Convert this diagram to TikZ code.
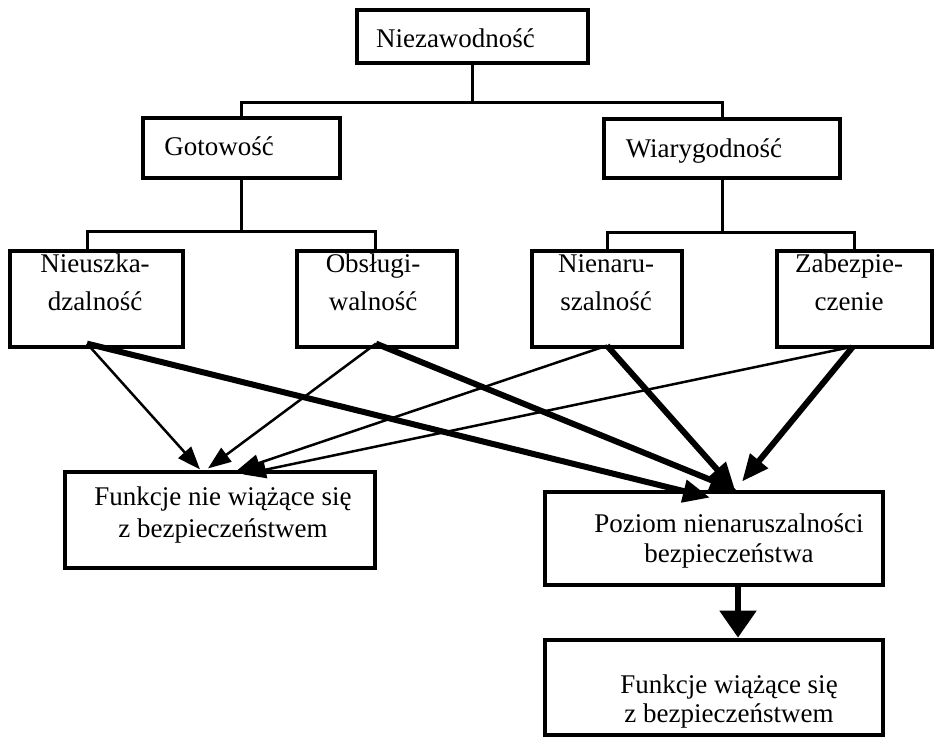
\documentclass[tikz,border=0pt]{standalone}
\usepackage{fontspec}
\setmainfont{Liberation Serif}
\usetikzlibrary{arrows.meta}

% two centred lines, baseline at the first line, extra gap between them
\newcommand\twoln[3]{\begin{tabular}[t]{@{}c@{}}#1\\[#3]#2\end{tabular}}

\begin{document}
\begin{tikzpicture}[x=1pt,y=-1pt,
  box/.style={draw, rectangle, line width=3.2pt, inner sep=0pt},
  heavybox/.style={box, line width=4.8pt},
  lbl/.style={inner sep=0pt, anchor=base, font=\fontsize{27}{30}\selectfont},
  tree/.style={line width=3pt},
  thinarrow/.style={line width=2.5pt, -{Triangle[length=23pt, width=17pt]}},
  thickarrow/.style={line width=6pt, -{Triangle[length=27pt, width=22pt]}},
  downarrow/.style={line width=5.5pt, -{Triangle[length=27pt, width=36pt]}}]

\useasboundingbox (0,0) rectangle (939,740);

% ---- boxes ----
\node[box, minimum width=231pt, minimum height=53pt] (top)  at (472.5,36.5) {};
\node[box, minimum width=197pt, minimum height=60pt] (got)  at (241.5,148)  {};
\node[box, minimum width=236pt, minimum height=59pt] (wia)  at (722,148.5)  {};
\node[box, minimum width=173pt, minimum height=96pt] (nieu) at (96.5,299)   {};
\node[box, minimum width=160pt, minimum height=96pt] (obs)  at (377,299)    {};
\node[box, minimum width=150pt, minimum height=96pt] (nien) at (607,299)    {};
\node[box, minimum width=155pt, minimum height=96pt] (zab)  at (854.5,299)  {};
\node[box, minimum width=310pt, minimum height=96pt] (fnie) at (220,520)    {};
\node[heavybox, minimum width=338pt, minimum height=93pt] (poz) at (714,538.5) {};
\node[heavybox, minimum width=338pt, minimum height=95pt] (fwi) at (714,687.5) {};

% ---- texts ----
\node[lbl] (t-top)  at (455.5,47) {Niezawodność};
\node[lbl] (t-got)  at (219,155)  {Gotowość};
\node[lbl] (t-wia)  at (704,157)  {Wiarygodność};
\node[lbl] (t-nieu) at (95,272)   {\twoln{Nieuszka-}{dzalność}{8pt}};
\node[lbl] (t-obs)  at (373,272)  {\twoln{Obsługi-}{walność}{8pt}};
\node[lbl] (t-nien) at (606,272)  {\twoln{Nienaru-}{szalność}{8pt}};
\node[lbl] (t-zab)  at (849,272)  {\twoln{Zabezpie-}{czenie}{8pt}};
\node[lbl] (t-fnie) at (223,505)  {\twoln{Funkcje nie wiążące się}{z bezpieczeństwem}{2pt}};
\node[lbl] (t-poz)  at (729,532)  {\twoln{Poziom nienaruszalności}{bezpieczeństwa}{0pt}};
\node[lbl] (t-fwi)  at (729,693)  {\twoln{Funkcje wiążące się}{z bezpieczeństwem}{-1pt}};

% ---- hierarchy ----
\coordinate (barA) at (0,102);
\coordinate (barB) at (0,231);
\coordinate (barC) at (0,232);
\draw[tree] (top.south) -- (top.south |- barA);
\draw[tree] (got.north) |- (wia.north |- barA) -- (wia.north);
\draw[tree] (got.south) -- (got.south |- barB);
\draw[tree] ([xshift=-9.5pt]nieu.north) |- ([xshift=-2pt]obs.north |- barB) -- ([xshift=-2pt]obs.north);
\draw[tree] (wia.south) -- (wia.south |- barC);
\draw[tree] (nien.north) |- (zab.north |- barC) -- (zab.north);

% ---- arrow origins ----
\coordinate (o1) at ([shift={(-9.5,-5)}]nieu.south);
\coordinate (o2) at ([shift={(-1,-5)}]obs.south);
\coordinate (o3) at ([shift={(0,-3)}]nien.south);
\coordinate (o4) at ([shift={(-1.5,-2)}]zab.south);

% ---- arrows into the non-safety functions ----
\draw[thinarrow] (o1) -- ([shift={(-20,-1)}]fnie.north);
\draw[thinarrow] (o2) -- ([shift={(-12,-2)}]fnie.north);
\draw[thinarrow] (o3) -- ([shift={(17,0)}]fnie.north);
\draw[thinarrow] (o4) -- ([shift={(23,4)}]fnie.north);

% ---- arrows into the safety integrity level ----
\draw[thickarrow] (o1) -- ([shift={(-4,8)}]poz.north);
\draw[thickarrow] (o2) -- ([shift={(23,1)}]poz.north);
\draw[thickarrow] (o3) -- ([shift={(21,0)}]poz.north);
\draw[thickarrow] (o4) -- ([shift={(28,-8)}]poz.north);

% ---- level to safety functions ----
\draw[downarrow] ([xshift=24pt]poz.south) -- ([xshift=24pt]fwi.north);
\end{tikzpicture}
\end{document}
